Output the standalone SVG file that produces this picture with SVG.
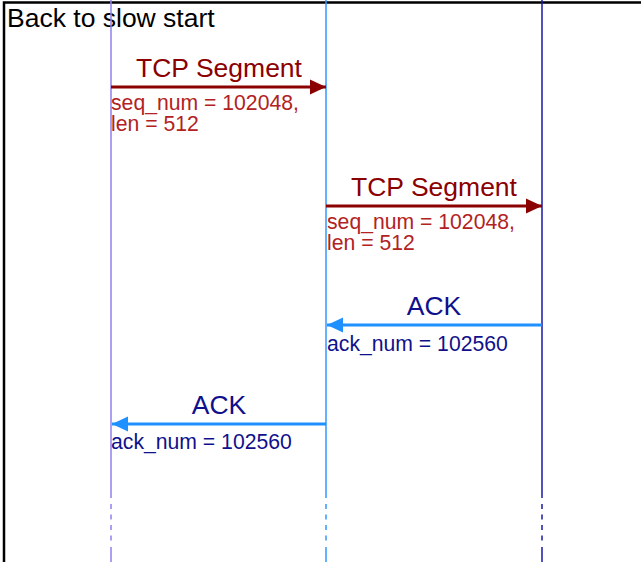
<svg xmlns="http://www.w3.org/2000/svg" width="641" height="562" viewBox="0 0 641 562">
  <style>
    text { font-family: "Liberation Sans", Arial, sans-serif; }
    .title { font-size: 26.5px; fill: #000000; }
    .msg { font-size: 26.5px; text-anchor: middle; }
    .sub { font-size: 21.2px; }
    .seg { fill: #8b0000; }
    .segsub { fill: #b22222; }
    .ack { fill: #10108c; }
    .life { fill: none; stroke-width: 1.5; }
    .dash { stroke-dasharray: 5 5.5; }
  </style>
  <defs>
    <marker id="headRed" markerUnits="userSpaceOnUse" markerWidth="17" markerHeight="16" refX="16" refY="8" orient="auto">
      <path d="M0,0.5 L16,8 L0,15.5 Z" fill="#8b0000"/>
    </marker>
    <marker id="headBlue" markerUnits="userSpaceOnUse" markerWidth="17" markerHeight="16" refX="16" refY="8" orient="auto">
      <path d="M0,0.5 L16,8 L0,15.5 Z" fill="#1e90ff"/>
    </marker>
  </defs>

  <rect x="0" y="0" width="641" height="562" fill="#ffffff"/>

  <!-- frame -->
  <g id="frame">
    <path d="M4,562 V2.5 H641" fill="none" stroke="#000000" stroke-width="2.5"/>
    <text class="title" x="7" y="27">Back to slow start</text>
  </g>

  <!-- lifelines -->
  <g id="lifelineA">
    <path class="life" d="M111,0 V498 M111,547 V562" stroke="#8f80f0"/>
    <path class="life dash" d="M111,504 V542" stroke="#8f80f0"/>
  </g>
  <g id="lifelineB">
    <path class="life" d="M326,0 V498 M326,547 V562" stroke="#3398ff"/>
    <path class="life dash" d="M326,504 V542" stroke="#3398ff"/>
  </g>
  <g id="lifelineC">
    <path class="life" d="M542,0 V498 M542,547 V562" stroke="#1a1aa6"/>
    <path class="life dash" d="M542,504 V542" stroke="#1a1aa6"/>
  </g>

  <!-- connectors -->
  <g id="connectors">
    <line x1="111" y1="87" x2="326" y2="87" stroke="#8b0000" stroke-width="3" marker-end="url(#headRed)"/>
    <line x1="326" y1="206" x2="542" y2="206" stroke="#8b0000" stroke-width="3" marker-end="url(#headRed)"/>
    <line x1="542" y1="325" x2="327" y2="325" stroke="#1e90ff" stroke-width="3" marker-end="url(#headBlue)"/>
    <line x1="326" y1="424" x2="112" y2="424" stroke="#1e90ff" stroke-width="3" marker-end="url(#headBlue)"/>
  </g>

  <!-- message labels -->
  <g id="msg1">
    <text class="msg seg" x="219" y="77">TCP Segment</text>
    <text class="sub segsub" x="111" y="110">seq_num = 102048,</text>
    <text class="sub segsub" x="111" y="131">len = 512</text>
  </g>
  <g id="msg2">
    <text class="msg seg" x="434" y="196">TCP Segment</text>
    <text class="sub segsub" x="327" y="229">seq_num = 102048,</text>
    <text class="sub segsub" x="327" y="250">len = 512</text>
  </g>
  <g id="msg3">
    <text class="msg ack" x="434" y="315">ACK</text>
    <text class="sub ack" x="327" y="351">ack_num = 102560</text>
  </g>
  <g id="msg4">
    <text class="msg ack" x="219" y="414">ACK</text>
    <text class="sub ack" x="111" y="449">ack_num = 102560</text>
  </g>
</svg>
